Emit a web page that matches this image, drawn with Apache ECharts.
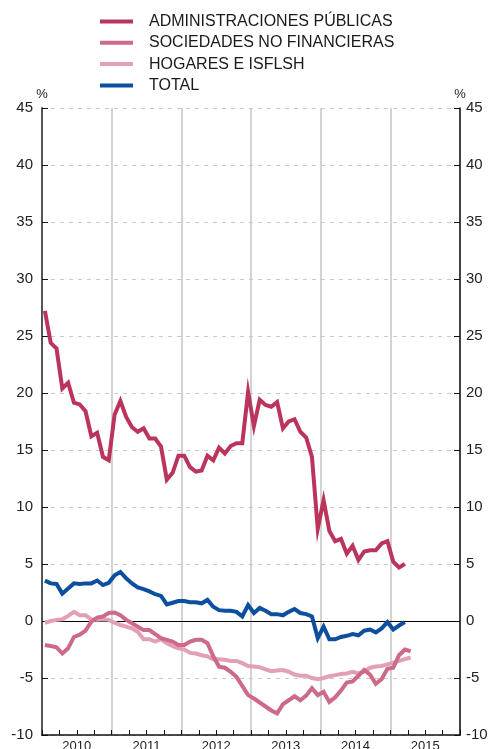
<!DOCTYPE html>
<html>
<head>
<meta charset="utf-8">
<script src="https://cdn.jsdelivr.net/npm/echarts@6/dist/echarts.min.js"></script>
<style>
  html, body { margin: 0; padding: 0; background: #fff; }
  #chart { width: 495px; height: 749px; }
</style>
</head>
<body>
<div id="chart"></div>
<script>
// meses desde enero 2010, tasas de variación interanual (%)
const years = ['2010', '2011', '2012', '2013', '2014', '2015'];
const yTicks = { min: -10, max: 45, step: 5 };

const adminPublicas = [27.2, 24.4, 23.9, 20.4, 20.9, 19.15, 19.0, 18.4, 16.2, 16.5, 14.4, 14.1,
  18.1, 19.3, 17.9, 17.0, 16.6, 16.9, 16.0, 16.0, 15.3, 12.4, 13.0, 14.5,
  14.5, 13.5, 13.1, 13.2, 14.5, 14.1, 15.2, 14.7, 15.35, 15.6, 15.6, 20.1,
  17.1, 19.4, 18.95, 18.8, 19.2, 16.9, 17.5, 17.7, 16.6, 16.1, 14.4, 8.1,
  10.6, 7.9, 7.0, 7.2, 5.9, 6.6, 5.35, 6.1, 6.2, 6.2, 6.8, 7.0,
  5.2, 4.7, 5.0];

const sociedades = [-2.1, -2.2, -2.3, -2.85, -2.4, -1.4, -1.2, -0.85, -0.05, 0.3, 0.4, 0.7,
  0.75, 0.5, 0.1, -0.2, -0.5, -0.8, -0.8, -1.15, -1.5, -1.65, -1.8, -2.1,
  -2.1, -1.8, -1.65, -1.65, -1.95, -3.1, -4.0, -4.1, -4.45, -4.9, -5.7, -6.5,
  -6.8, -7.15, -7.5, -7.85, -8.1, -7.3, -6.95, -6.6, -6.95, -6.55, -5.9, -6.5,
  -6.2, -7.1, -6.7, -6.1, -5.4, -5.3, -4.8, -4.3, -4.7, -5.5, -5.1, -4.2,
  -4.1, -3.0, -2.5, -2.65];

const hogares = [-0.15, 0.0, 0.1, 0.15, 0.45, 0.8, 0.5, 0.5, 0.15, 0.1, 0.15, 0.1,
  -0.15, -0.35, -0.5, -0.65, -0.95, -1.6, -1.6, -1.8, -1.6, -1.95, -2.2, -2.4,
  -2.5, -2.8, -2.85, -3.0, -3.1, -3.35, -3.35, -3.4, -3.5, -3.5, -3.7, -3.95,
  -4.0, -4.05, -4.25, -4.4, -4.35, -4.3, -4.45, -4.7, -4.8, -4.8, -5.0, -5.1,
  -5.0, -4.85, -4.75, -4.65, -4.6, -4.45, -4.6, -4.45, -4.1, -4.0, -3.95, -3.8,
  -3.65, -3.5, -3.35, -3.2];

const total = [3.54, 3.3, 3.25, 2.4, 2.85, 3.3, 3.25, 3.3, 3.3, 3.55, 3.15, 3.35,
  4.0, 4.3, 3.75, 3.3, 2.95, 2.8, 2.6, 2.35, 2.2, 1.45, 1.6, 1.75,
  1.75, 1.65, 1.65, 1.55, 1.85, 1.25, 0.95, 0.9, 0.9, 0.8, 0.4, 1.4,
  0.7, 1.15, 0.9, 0.6, 0.6, 0.5, 0.8, 1.05, 0.7, 0.6, 0.4, -1.5,
  -0.5, -1.6, -1.6, -1.4, -1.3, -1.15, -1.25, -0.85, -0.75, -1.0, -0.65, -0.1,
  -0.75, -0.4, -0.1];

const colores = {
  admin: '#ba345c',
  soc: '#cd6a87',
  hog: '#e2a0b4',
  total: '#0c4f9f'
};

const FONT = '"Liberation Sans", Arial, Helvetica, sans-serif';

// cada mes se dibuja en el centro de su intervalo
function toPoints(arr) {
  return arr.map((v, i) => [i + 0.5, v]);
}

let myChart = echarts.init(document.getElementById('chart'), null, { renderer: 'canvas' });

function lineSerie(name, arr, color, z) {
  return {
    name: name,
    type: 'line',
    xAxisIndex: 0,
    yAxisIndex: 0,
    data: toPoints(arr),
    showSymbol: false,
    symbol: 'none',
    z: z,
    lineStyle: { color: color, width: 4, join: 'miter' },
    itemStyle: { color: color },
    animation: false
  };
}

const yAxisBase = {
  type: 'value',
  min: yTicks.min,
  max: yTicks.max,
  interval: yTicks.step,
  name: '%',
  nameLocation: 'end',
  nameGap: 0,
  nameTextStyle: { fontFamily: FONT, fontSize: 13, color: '#222' },
  axisLine: { show: true, lineStyle: { color: '#111', width: 1.5 } },
  axisTick: { show: true, inside: true, length: 6, lineStyle: { color: '#111' } },
  axisLabel: { fontFamily: FONT, fontSize: 15, color: '#222' }
};

let option = {
  backgroundColor: '#fff',
  animation: false,
  textStyle: { fontFamily: FONT },
  legend: {
    orient: 'vertical',
    left: 95,
    top: 8,
    itemWidth: 33,
    itemHeight: 4,
    itemGap: 4.3,
    icon: 'rect',
    data: ['ADMINISTRACIONES PÚBLICAS', 'SOCIEDADES NO FINANCIERAS', 'HOGARES E ISFLSH', 'TOTAL'],
    textStyle: { fontFamily: FONT, fontSize: 16, color: '#1a1a1a', lineHeight: 17, padding: [0, 0, 0, 11] }
  },
  grid: { left: 42, right: 35, top: 108, bottom: 14, containLabel: false, outerBoundsMode: 'none' },
  xAxis: [
    {
      type: 'value', min: 0, max: 72, interval: 3, position: 'bottom',
      axisLine: { show: true, onZero: false, lineStyle: { color: '#111', width: 1.5 } },
      axisTick: { show: true, inside: true, length: 5, lineStyle: { color: '#111' } },
      axisLabel: { show: false },
      splitLine: { show: false }
    },
    {
      type: 'value', min: 0, max: 72, interval: 12, position: 'bottom',
      axisLine: { show: false },
      axisTick: { show: false },
      axisLabel: { show: false },
      splitLine: { show: true, lineStyle: { color: '#c4c4c4', width: 1.5 } }
    },
    {
      type: 'category', data: years, boundaryGap: true, position: 'bottom',
      axisLine: { show: false },
      axisTick: { show: false },
      axisLabel: { fontFamily: FONT, fontSize: 13, color: '#222', margin: 5 },
      splitLine: { show: false }
    }
  ],
  yAxis: [
    Object.assign({}, yAxisBase, {
      position: 'left',
      axisLine: { show: true, onZero: false, lineStyle: { color: '#555', width: 2 } },
      axisLabel: Object.assign({}, yAxisBase.axisLabel, { margin: 9 }),
      splitLine: { show: true, lineStyle: { color: '#c8c8c8', width: 1, type: [4, 5] } }
    }),
    Object.assign({}, yAxisBase, {
      position: 'right',
      axisLine: { show: true, onZero: false, lineStyle: { color: '#111', width: 1.5 } },
      axisLabel: Object.assign({}, yAxisBase.axisLabel, { margin: 6 }),
      splitLine: { show: false }
    })
  ],
  series: [
    Object.assign(lineSerie('HOGARES E ISFLSH', hogares, colores.hog, 2), {
      markLine: {
        silent: true,
        symbol: 'none',
        label: { show: false },
        lineStyle: { color: '#000', width: 1, type: 'solid' },
        data: [{ yAxis: 0 }],
        z: 1
      }
    }),
    lineSerie('SOCIEDADES NO FINANCIERAS', sociedades, colores.soc, 3),
    lineSerie('ADMINISTRACIONES PÚBLICAS', adminPublicas, colores.admin, 4),
    lineSerie('TOTAL', total, colores.total, 5)
  ]
};

myChart.setOption(option);
</script>
</body>
</html>
